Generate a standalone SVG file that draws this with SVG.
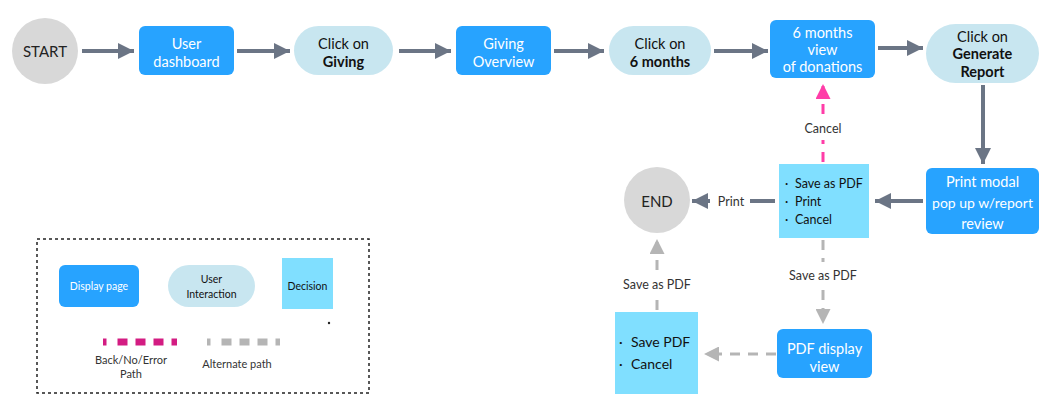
<svg xmlns="http://www.w3.org/2000/svg" width="1049" height="414" viewBox="0 0 1049 414">
<style>
text{font-family:Lato,"Open Sans","DejaVu Sans",sans-serif;text-anchor:middle;dominant-baseline:central}
.disp{fill:#27A3FF}
.dt{fill:#fff;font-size:14.5px}
.pill{fill:#C8E6F0}
.pt{fill:#111;font-size:14.5px}
.b{font-weight:bold}
.dec{fill:#80DFFF}
.dect{fill:#111;font-size:12.5px;text-anchor:start}
.circ{fill:#D8D8D8}
.ct{fill:#222;font-size:15px}
.lbl{fill:#333;font-size:12.5px}
.solid{stroke:#6B7585;stroke-width:4;fill:none}
.pink{stroke:#FF3DA8;stroke-width:3;fill:none;stroke-dasharray:10 8}
.gray{stroke:#B5B5B5;stroke-width:3;fill:none;stroke-dasharray:10 8}
.lt{fill:#333;font-size:11px}
</style>
<defs>
<marker id="ah" viewBox="0 0 10 10" refX="10" refY="5" markerWidth="4" markerHeight="4" orient="auto" markerUnits="strokeWidth"><path d="M0,0 L10,5 L0,10 z" fill="#6B7585"/></marker>
<marker id="ahp" viewBox="0 0 10 10" refX="10" refY="5" markerWidth="5" markerHeight="5" orient="auto" markerUnits="strokeWidth"><path d="M0,0 L10,5 L0,10 z" fill="#FF3DA8"/></marker>
<marker id="ahg" viewBox="0 0 10 10" refX="10" refY="5" markerWidth="5" markerHeight="5" orient="auto" markerUnits="strokeWidth"><path d="M0,0 L10,5 L0,10 z" fill="#B5B5B5"/></marker>
</defs>

<g id="connectors">
<line class="solid" x1="82" y1="51" x2="134" y2="51" marker-end="url(#ah)"/>
<line class="solid" x1="237" y1="51" x2="290" y2="51" marker-end="url(#ah)"/>
<line class="solid" x1="399" y1="51" x2="451" y2="51" marker-end="url(#ah)"/>
<line class="solid" x1="554" y1="51" x2="604" y2="51" marker-end="url(#ah)"/>
<line class="solid" x1="714" y1="51" x2="768" y2="51" marker-end="url(#ah)"/>
<line class="solid" x1="878" y1="48" x2="923" y2="48" marker-end="url(#ah)"/>
<line class="solid" x1="983" y1="85" x2="983" y2="164" marker-end="url(#ah)"/>
<line class="solid" x1="923" y1="201" x2="875" y2="201" marker-end="url(#ah)"/>
<line class="solid" x1="775" y1="201" x2="750" y2="201"/>
<line class="solid" x1="710" y1="201" x2="692" y2="201" marker-end="url(#ah)"/>
<text class="lbl" x="731" y="201">Print</text>
<line class="pink" x1="823" y1="162" x2="823" y2="140"/>
<line class="pink" x1="823" y1="114" x2="823" y2="84" marker-end="url(#ahp)" stroke-dasharray="12 30"/>
<text class="lbl" x="823" y="128">Cancel</text>
<line class="gray" x1="823" y1="240" x2="823" y2="262"/>
<line class="gray" x1="823" y1="290" x2="823" y2="324" marker-end="url(#ahg)" stroke-dasharray="12 30"/>
<text class="lbl" x="823" y="275">Save as PDF</text>
<line class="gray" x1="776" y1="354" x2="704" y2="354" marker-end="url(#ahg)"/>
<line class="gray" x1="657" y1="310" x2="657" y2="298"/>
<line class="gray" x1="657" y1="270" x2="657" y2="239" marker-end="url(#ahg)" stroke-dasharray="10 30"/>
<text class="lbl" x="657" y="284">Save as PDF</text>
</g>

<g id="start"><circle class="circ" cx="45" cy="51" r="33"/><text class="ct" x="45" y="51">START</text></g>
<g id="user-dashboard"><rect class="disp" x="139" y="26" width="95" height="49" rx="6"/><text class="dt" x="186.5" y="43">User</text><text class="dt" x="186.5" y="61">dashboard</text></g>
<g id="click-giving"><rect class="pill" x="294" y="26" width="99" height="49" rx="24.5"/><text class="pt" x="343.5" y="43">Click on</text><text class="pt b" x="343.5" y="61">Giving</text></g>
<g id="giving-overview"><rect class="disp" x="456" y="26" width="95" height="49" rx="6"/><text class="dt" x="503.5" y="43">Giving</text><text class="dt" x="503.5" y="61">Overview</text></g>
<g id="click-6months"><rect class="pill" x="609" y="26" width="102" height="49" rx="24.5"/><text class="pt" x="660" y="43">Click on</text><text class="pt b" x="660" y="61">6 months</text></g>
<g id="six-months-view"><rect class="disp" x="770" y="20" width="105" height="58" rx="6"/><text class="dt" x="822.5" y="32">6 months</text><text class="dt" x="822.5" y="49">view</text><text class="dt" x="822.5" y="66">of donations</text></g>
<g id="click-generate"><rect class="pill" x="926" y="24" width="113" height="59" rx="29.5"/><text class="pt" x="982.5" y="36">Click on</text><text class="pt b" x="982.5" y="53">Generate</text><text class="pt b" x="982.5" y="71">Report</text></g>
<g id="print-modal"><rect class="disp" x="926" y="168" width="113" height="66" rx="6"/><text class="dt" x="982.5" y="181">Print modal</text><text class="dt" x="982.5" y="202" style="font-size:14px">pop up w/report</text><text class="dt" x="982.5" y="223">review</text></g>
<g id="print-decision"><rect class="dec" x="779" y="164" width="90" height="74"/>
<text class="dect" x="785" y="183">·</text><text class="dect" x="795" y="183">Save as PDF</text>
<text class="dect" x="785" y="201">·</text><text class="dect" x="795" y="201">Print</text>
<text class="dect" x="785" y="219">·</text><text class="dect" x="795" y="219">Cancel</text></g>
<g id="end"><circle class="circ" cx="657" cy="200" r="33"/><text class="ct" x="657" y="201">END</text></g>
<g id="pdf-display"><rect class="disp" x="777" y="329" width="95" height="49" rx="6"/><text class="dt" x="824.5" y="348">PDF display</text><text class="dt" x="824.5" y="366">view</text></g>
<g id="save-decision"><rect class="dec" x="615" y="312" width="83" height="82"/>
<text class="dect" x="619" y="341" style="font-size:14px">·</text><text class="dect" x="631" y="341" style="font-size:14px">Save PDF</text>
<text class="dect" x="619" y="363" style="font-size:14px">·</text><text class="dect" x="631" y="363" style="font-size:14px">Cancel</text></g>

<g id="legend">
<rect x="37" y="239" width="332" height="154" fill="none" stroke="#222" stroke-width="1.5" stroke-dasharray="3 3"/>
<rect class="disp" x="59" y="265" width="80" height="42" rx="6"/><text class="lt" x="99" y="286" style="fill:#fff;font-size:10.5px">Display page</text>
<rect class="pill" x="168" y="265" width="87" height="42" rx="21"/><text class="lt" x="211.5" y="279" style="fill:#111;font-size:10.5px">User</text><text class="lt" x="211.5" y="294" style="fill:#111;font-size:10.5px">Interaction</text>
<rect class="dec" x="282" y="258" width="51" height="51"/><text class="lt" x="307.5" y="286" style="fill:#111;font-size:10.5px">Decision</text>
<circle cx="329" cy="323" r="1.2" fill="#222"/>
<line x1="103" y1="342" x2="177" y2="342" stroke="#D31C82" stroke-width="7" stroke-dasharray="3.5 11 10 8 10 8 10 8 10 8 3.5 100"/>
<text class="lt" x="131" y="359">Back/No/Error</text><text class="lt" x="131" y="373">Path</text>
<line x1="207" y1="342" x2="280" y2="342" stroke="#B5B5B5" stroke-width="7" stroke-dasharray="3.5 11 10 8 10 8 10 8 10 8 3.5 100"/>
<text class="lt" x="237" y="363">Alternate path</text>
</g>
</svg>
